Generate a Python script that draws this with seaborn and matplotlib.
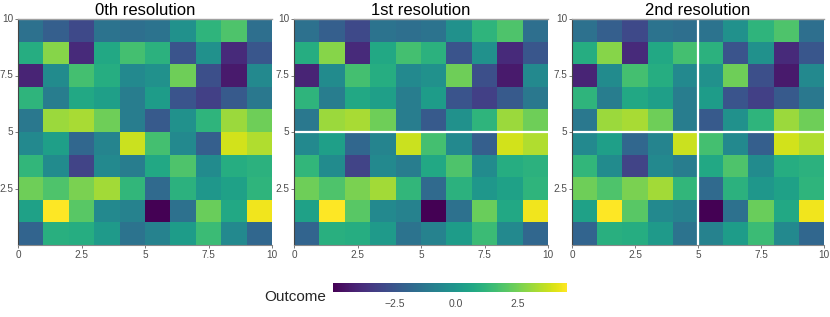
import numpy as np
import pandas as pd
import matplotlib
matplotlib.use("Agg")
import matplotlib.pyplot as plt
import seaborn as sns

# values, rows listed from top (y 9-10) to bottom (y 0-1), columns x 0..9
row9 = [-1.49, -2.15, -2.91, -1.39, -1.58, -1.39, -0.25, 1.18, 1.84, -1.58]
row8 = [0.89, 2.79, -3.86, 0.70, 1.65, 1.08, -2.53, -0.25, -3.86, -2.44]
row7 = [-4.05, -0.44, 1.65, 0.89, -0.54, -0.25, 2.41, -2.72, -4.34, -0.54]
row6 = [1.18, -1.01, 0.70, 0.32, -1.01, 0.23, -2.53, -3.20, -2.34, -1.20]
row5 = [-1.20, 3.08, 3.27, 2.41, -1.01, -2.34, -0.25, 1.18, 3.08, 2.41]
row4 = [-0.54, 0.32, -1.87, -0.73, 3.74, 1.65, -0.54, -2.15, 3.84, 3.36]
row3 = [1.27, -0.44, -3.10, -0.54, -1.01, 0.70, 1.84, -0.44, 0.89, 1.08]
row2 = [2.41, 1.84, 2.60, 3.17, 1.27, -1.77, 1.08, 0.04, 0.42, 1.18]
row1 = [0.42, 4.50, 2.03, -0.54, -0.82, -5.00, -1.49, 2.32, 0.70, 4.31]
row0 = [-1.96, 0.99, 0.89, 0.13, -1.39, -0.82, 0.23, 1.46, -0.54, -1.87]

titles = ["0th resolution", "1st resolution", "2nd resolution"]
xtick_vals = [0, 2.5, 5, 7.5, 10]
xtick_labels = ["0", "2.5", "5", "7.5", "10"]
ytick_vals = [2.5, 5, 7.5, 10]
ytick_labels = ["2.5", "5", "7.5", "10"]
cbar_ticks = [-2.5, 0.0, 2.5]
cbar_labels = ["\u22122.5", "0.0", "2.5"]
vmin, vmax = -5.0, 4.5

rows_bottom_up = [row0, row1, row2, row3, row4, row5, row6, row7, row8, row9]
df = pd.DataFrame(rows_bottom_up)

sns.set_theme(style="white")
plt.rcParams['font.family'] = ['Liberation Sans', 'DejaVu Sans']

W, H = 830, 317
fig = plt.figure(figsize=(W / 100, H / 100), dpi=100)

panels = [(18, 272), (294, 548), (572, 824)]
top, bottom = 19, 245
grey = "#4d4d4d"

for i, (x0, x1) in enumerate(panels):
    ax = fig.add_axes([x0 / W, 1 - bottom / H, (x1 - x0) / W, (bottom - top) / H])
    sns.heatmap(df, ax=ax, cmap="viridis", vmin=vmin, vmax=vmax, cbar=False,
                square=False, linewidths=0)
    ax.set_ylim(0, 10)
    ax.set_xlim(0, 10)
    ax.set_xticks(xtick_vals)
    ax.set_xticklabels(xtick_labels, rotation=0)
    ax.set_yticks(ytick_vals)
    ax.set_yticklabels(ytick_labels, rotation=0)
    ax.tick_params(axis="both", labelsize=7.2, colors="#666666", length=2.5, width=0.6,
                   pad=1, bottom=True, left=True)
    ax.tick_params(axis="both", labelcolor=grey)
    ax.spines["right"].set_visible(False)
    ax.spines["top"].set_visible(True)
    ax.spines["top"].set_color("#a0a0a0")
    ax.spines["top"].set_linewidth(1.0)
    ax.spines["bottom"].set_visible(True)
    ax.spines["bottom"].set_color("#8a8a8a")
    ax.spines["bottom"].set_linewidth(0.8)
    ax.spines["left"].set_visible(True)
    ax.spines["left"].set_color("#444444")
    ax.spines["left"].set_linewidth(0.8)
    ax.set_title(titles[i], fontsize=12, color="black", pad=3)
    ax.set_xlabel("")
    ax.set_ylabel("")
    if i >= 1:
        ax.axhline(5, color="white", lw=1.6)
    if i >= 2:
        ax.axvline(5, color="white", lw=1.6)

# colorbar
cax = fig.add_axes([333 / W, 1 - 292 / H, (567 - 333) / W, 9 / H])
sm = matplotlib.cm.ScalarMappable(norm=matplotlib.colors.Normalize(vmin, vmax), cmap="viridis")
cb = fig.colorbar(sm, cax=cax, orientation="horizontal")
cb.outline.set_visible(False)
cb.set_ticks(cbar_ticks)
cb.set_ticklabels(cbar_labels)
cax.tick_params(axis="x", labelsize=7.5, colors="white", labelcolor=grey,
                length=3, width=0.6, direction="in", pad=5)
fig.text(326 / W, 1 - 297 / H, "Outcome", fontsize=11, ha="right", va="center")

fig.savefig("out.png", dpi=100)
